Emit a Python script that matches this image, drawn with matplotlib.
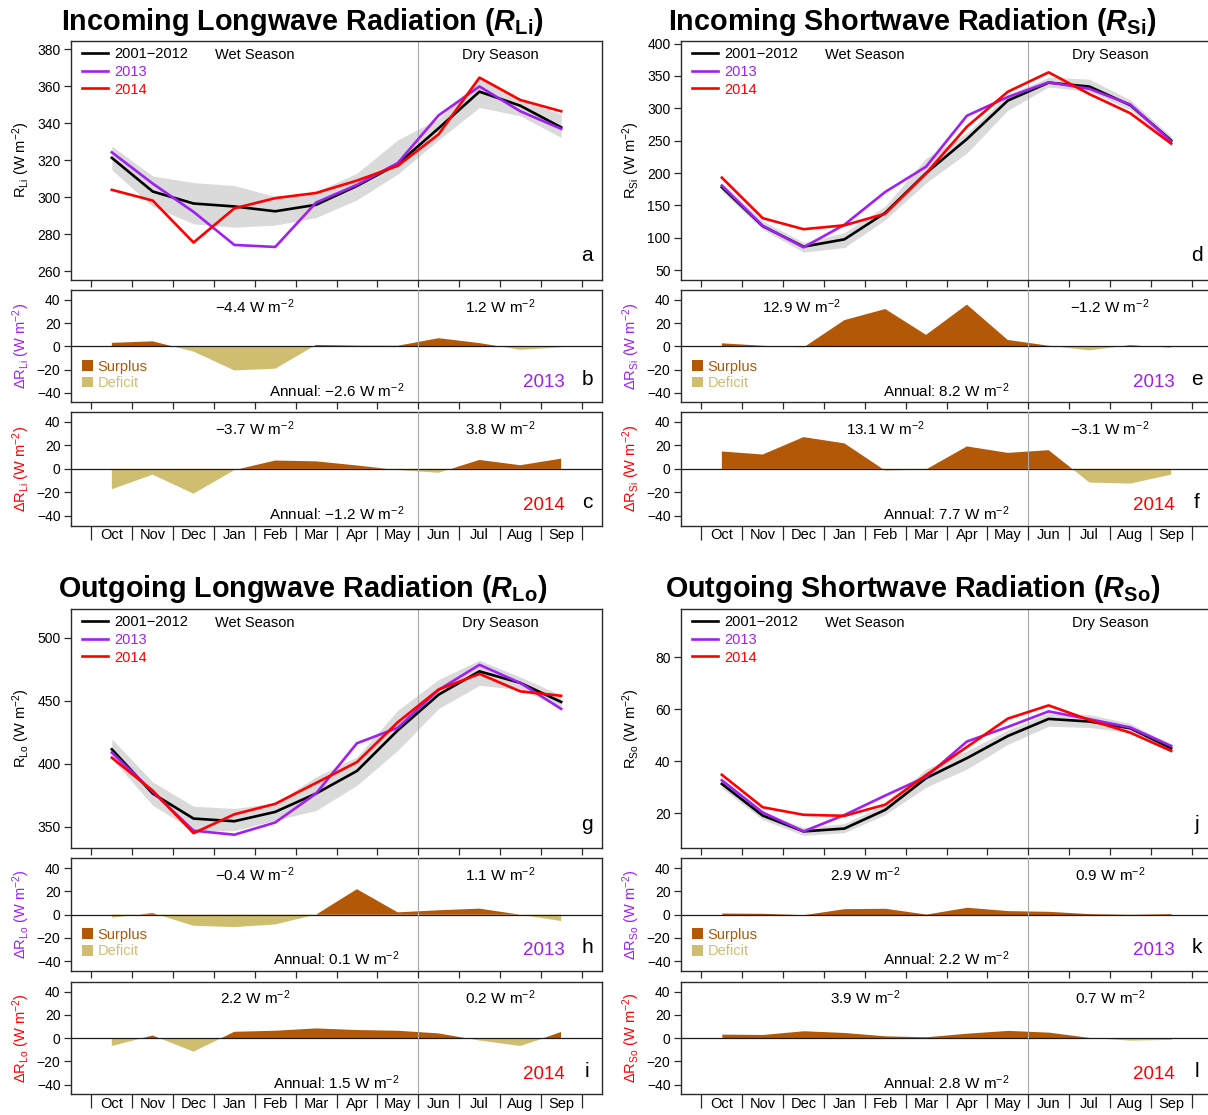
import numpy as np
import matplotlib
matplotlib.use("Agg")
import matplotlib.pyplot as plt
from matplotlib.patches import Patch

plt.rcParams.update({
    "font.family": "Liberation Sans",
    "mathtext.fontset": "custom",
    "mathtext.rm": "Liberation Sans",
    "mathtext.it": "Liberation Sans:italic",
    "mathtext.bf": "Liberation Sans:bold",
    "mathtext.bfit": "Liberation Sans:italic:bold",
    "axes.unicode_minus": True,
})

months = ["Oct", "Nov", "Dec", "Jan", "Feb", "Mar", "Apr", "May", "Jun", "Jul", "Aug", "Sep"]
series_labels = ["2001\u22122012", "2013", "2014"]

# Incoming longwave radiation (W m-2): 2001-2012 mean, its spread, 2013, 2014
rli_clim = [321.3, 303.1, 296.6, 295.0, 292.4, 295.9, 306.1, 318.0, 337.3, 357.1, 349.5, 337.8]
rli_lo = [314.8, 295.0, 285.6, 283.8, 284.9, 289.0, 298.6, 312.5, 331.0, 348.6, 344.0, 332.3]
rli_hi = [327.7, 311.5, 307.9, 306.3, 300.4, 303.0, 313.0, 331.0, 342.5, 364.0, 352.6, 345.0]
rli_2013 = [324.3, 307.4, 292.1, 274.2, 273.1, 297.1, 306.7, 318.5, 344.3, 359.9, 346.5, 337.0]
rli_2014 = [304.0, 298.2, 275.5, 294.0, 299.5, 302.3, 309.0, 317.0, 334.0, 364.7, 352.6, 346.5]

# Incoming shortwave radiation
rsi_clim = [178.2, 118.2, 86.4, 97.7, 138.7, 200.0, 252.6, 312.0, 339.7, 333.6, 304.9, 250.5]
rsi_lo = [172.0, 113.0, 78.0, 85.0, 128.0, 185.0, 231.0, 297.0, 333.0, 326.0, 298.0, 245.0]
rsi_hi = [185.0, 126.0, 93.0, 108.0, 149.0, 223.0, 262.0, 321.0, 348.0, 345.0, 313.0, 257.0]
rsi_2013 = [180.8, 118.7, 85.4, 120.3, 170.9, 209.9, 288.6, 317.5, 340.2, 330.1, 305.9, 249.0]
rsi_2014 = [193.0, 130.4, 113.4, 119.4, 137.2, 199.5, 271.7, 325.6, 355.6, 322.0, 292.4, 245.6]

# Outgoing longwave radiation
rlo_clim = [411.6, 376.5, 356.6, 354.5, 361.9, 376.5, 394.4, 426.7, 455.0, 473.5, 464.3, 449.2]
rlo_lo = [404.0, 367.2, 347.0, 347.0, 355.3, 363.0, 383.0, 410.8, 443.9, 462.4, 459.0, 445.2]
rlo_hi = [419.9, 385.7, 366.4, 364.6, 369.0, 389.7, 405.6, 442.6, 467.0, 482.3, 469.0, 454.5]
rlo_2013 = [409.0, 377.9, 347.0, 343.8, 353.5, 376.5, 416.4, 428.7, 458.8, 478.7, 464.3, 443.7]
rlo_2014 = [404.9, 378.8, 345.0, 360.0, 368.3, 384.9, 401.4, 433.1, 459.1, 471.5, 457.6, 454.1]

# Outgoing shortwave radiation
rso_clim = [31.3, 19.1, 13.0, 14.1, 21.3, 33.5, 41.2, 49.7, 56.3, 55.3, 52.7, 45.0]
rso_lo = [29.6, 17.5, 11.5, 12.5, 19.5, 30.0, 37.0, 46.5, 53.5, 53.0, 51.0, 43.5]
rso_hi = [33.0, 20.5, 14.5, 16.0, 23.5, 37.0, 44.0, 52.0, 58.5, 58.0, 54.5, 46.5]
rso_2013 = [32.7, 20.3, 13.0, 19.3, 26.8, 34.0, 47.6, 53.2, 59.2, 56.2, 53.0, 45.9]
rso_2014 = [34.8, 22.3, 19.4, 19.0, 23.3, 34.7, 45.5, 56.4, 61.5, 55.9, 51.0, 44.0]

# Seasonal (wet, dry) and annual mean anomalies, W m-2
rli_stats = {"2013": ("\u22124.4", "1.2", "\u22122.6"), "2014": ("\u22123.7", "3.8", "\u22121.2")}
rsi_stats = {"2013": ("12.9", "\u22121.2", "8.2"), "2014": ("13.1", "\u22123.1", "7.7")}
rlo_stats = {"2013": ("\u22120.4", "1.1", "0.1"), "2014": ("2.2", "0.2", "1.5")}
rso_stats = {"2013": ("2.9", "0.9", "2.2"), "2014": ("3.9", "0.7", "2.8")}

panels = [
    dict(title="Incoming Longwave Radiation", sub="Li", clim=rli_clim, lo=rli_lo, hi=rli_hi,
         y2013=rli_2013, y2014=rli_2014, stats=rli_stats, ylim=(255.5, 384.5),
         yticks=[260, 280, 300, 320, 340, 360, 380], letters="abc", col=0, row=0,
         wet_x={"2013": 4.5, "2014": 4.5}),
    dict(title="Incoming Shortwave Radiation", sub="Si", clim=rsi_clim, lo=rsi_lo, hi=rsi_hi,
         y2013=rsi_2013, y2014=rsi_2014, stats=rsi_stats, ylim=(35.7, 404),
         yticks=[50, 100, 150, 200, 250, 300, 350, 400], letters="def", col=1, row=0,
         wet_x={"2013": 2.95, "2014": 5.0}),
    dict(title="Outgoing Longwave Radiation", sub="Lo", clim=rlo_clim, lo=rlo_lo, hi=rlo_hi,
         y2013=rlo_2013, y2014=rlo_2014, stats=rlo_stats, ylim=(333, 523),
         yticks=[350, 400, 450, 500], letters="ghi", col=0, row=1,
         wet_x={"2013": 4.5, "2014": 4.5}),
    dict(title="Outgoing Shortwave Radiation", sub="So", clim=rso_clim, lo=rso_lo, hi=rso_hi,
         y2013=rso_2013, y2014=rso_2014, stats=rso_stats, ylim=(6.5, 98.6),
         yticks=[20, 40, 60, 80], letters="jkl", col=1, row=1,
         wet_x={"2013": 4.5, "2014": 4.5}),
]

BLACK, PURPLE, RED = "black", "#A020F0", "#FF0000"
BAND = "#DADADA"
SEP = "#A8A8A8"
SURPLUS, DEFICIT = "#B35806", "#CFBE70"
SPINE = "#2a2a2a"
LW = 1.9

W, H = 1208, 1115
fig = plt.figure(figsize=(W / 100, H / 100), dpi=100)

COL_X = [71, 681]
COL_W = 531
ROWS = [
    [(41, 279.5), (290, 402.3), (411.7, 525.7)],
    [(609, 848.3), (858.3, 970.7), (981.7, 1094.3)],
]
TITLE_BASE = [29.5, 597]
x = np.arange(1, 13)


def add_ax(x0, top, bottom):
    ax = fig.add_axes([x0 / W, 1 - bottom / H, COL_W / W, (bottom - top) / H])
    for s in ax.spines.values():
        s.set_color(SPINE)
        s.set_linewidth(1.0)
    ax.set_xlim(0, 13)
    ax.set_xticks(np.arange(0.5, 13, 1))
    ax.tick_params(axis="x", length=5, width=0.9, color=SPINE, labelbottom=False)
    ax.tick_params(axis="y", length=5, width=0.9, color=SPINE, labelsize=10, pad=2.5)
    return ax


def ylab(ax, s, color="black"):
    ax.text(-50 / COL_W, 0.5, s, rotation=90, ha="center", va="center",
            transform=ax.transAxes, fontsize=10.5, color=color)


wm2 = r"W m$^{-2}$"

for p in panels:
    x0 = COL_X[p["col"]]
    rows = ROWS[p["row"]]
    cx = x0 + COL_W / 2 - 34
    fig.text(cx / W, 1 - TITLE_BASE[p["row"]] / H,
             p["title"] + r" ($\mathbfit{R}_{\mathbf{" + p["sub"] + r"}}$)",
             ha="center", va="baseline", fontsize=20.7, fontweight="bold")

    # main panel
    top, bot = rows[0]
    h = bot - top
    ax = add_ax(x0, top, bot)
    ax.fill_between(x, p["lo"], p["hi"], color=BAND, lw=0, zorder=1)
    ax.axvline(8.5, color=SEP, lw=0.8, zorder=2)
    l0, = ax.plot(x, p["clim"], color=BLACK, lw=LW, zorder=3)
    l1, = ax.plot(x, p["y2013"], color=PURPLE, lw=LW, zorder=4)
    l2, = ax.plot(x, p["y2014"], color=RED, lw=LW, zorder=5)
    ax.set_ylim(*p["ylim"])
    ax.set_yticks(p["yticks"])
    ax.legend([l0, l1, l2], series_labels, loc="upper left",
              bbox_to_anchor=(11 / COL_W, 1 - 6.5 / h), frameon=False, fontsize=10.5,
              handlelength=1.78, handletextpad=0.41, labelspacing=0.24,
              borderpad=0, borderaxespad=0, labelcolor=[BLACK, PURPLE, RED])
    ax.text(4.5, 1 - 18.3 / h, "Wet Season", transform=ax.get_xaxis_transform(),
            ha="center", va="baseline", fontsize=10.5)
    ax.text(10.5, 1 - 18.3 / h, "Dry Season", transform=ax.get_xaxis_transform(),
            ha="center", va="baseline", fontsize=10.5)
    ax.text(516 / COL_W, 18.5 / h, p["letters"][0], transform=ax.transAxes,
            ha="center", va="baseline", fontsize=15)
    ylab(ax, r"$\mathrm{R}_{\mathrm{" + p["sub"] + r"}}$ (" + wm2 + ")")

    # anomaly panels
    for k, (year, key, color) in enumerate([("2013", "y2013", PURPLE), ("2014", "y2014", RED)]):
        top, bot = rows[k + 1]
        h = bot - top
        ax = add_ax(x0, top, bot)
        d = np.asarray(p[key]) - np.asarray(p["clim"])
        ax.fill_between(x, 0, d, where=d >= 0, interpolate=True, color=SURPLUS, lw=0, zorder=1)
        ax.fill_between(x, 0, d, where=d <= 0, interpolate=True, color=DEFICIT, lw=0, zorder=1)
        ax.axhline(0, color="#1a1a1a", lw=0.9, zorder=2)
        ax.axvline(8.5, color=SEP, lw=0.8, zorder=3)
        ax.set_ylim(-48.3, 48.6)
        ax.set_yticks([-40, -20, 0, 20, 40])
        wet, dry, ann = p["stats"][year]
        ax.text(p["wet_x"][year], 29.0, wet + " " + wm2, ha="center", va="baseline", fontsize=11)
        ax.text(10.5, 29.0, dry + " " + wm2, ha="center", va="baseline", fontsize=11)
        ax.text(6.5, -43.4, "Annual: " + ann + " " + wm2, ha="center", va="baseline", fontsize=11)
        ax.text(12.1, -34.8, year, ha="right", va="baseline", fontsize=13.5, color=color)
        ax.text(516 / COL_W, 17.5 / h, p["letters"][k + 1], transform=ax.transAxes,
                ha="center", va="baseline", fontsize=15)
        ylab(ax, r"$\Delta\mathrm{R}_{\mathrm{" + p["sub"] + r"}}$ (" + wm2 + ")", color)
        if k == 0:
            ax.legend([Patch(color=SURPLUS, lw=0), Patch(color=DEFICIT, lw=0)],
                      ["Surplus", "Deficit"], loc="upper left",
                      bbox_to_anchor=(11 / COL_W, 1 - 69.5 / h), frameon=False, fontsize=10.5,
                      handlelength=0.75, handleheight=0.75, handletextpad=0.3,
                      labelspacing=0.18, borderpad=0, borderaxespad=0,
                      labelcolor=[SURPLUS, DEFICIT])
        else:
            ax.tick_params(axis="x", length=10)
            for i, m in enumerate(months):
                ax.text(x[i], -13.3 / h, m, transform=ax.get_xaxis_transform(),
                        ha="center", va="baseline", fontsize=10.5)

fig.savefig("out.png", dpi=100)
